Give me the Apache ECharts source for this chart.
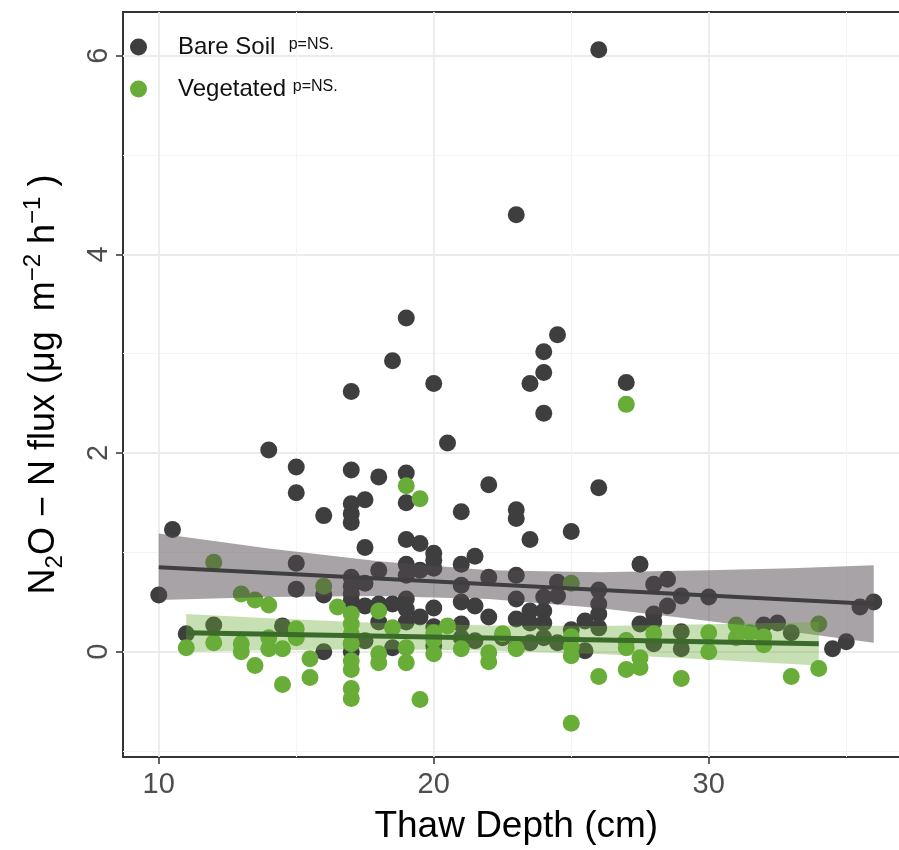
<!DOCTYPE html>
<html>
<head>
<meta charset="utf-8">
<script src="https://cdn.jsdelivr.net/npm/echarts@6/dist/echarts.min.js"></script>
<style>
  html, body { margin: 0; padding: 0; background: #fff; overflow: hidden; }
  /* panel runs a little past the right edge of the picture, as in the original */
  #viz { width: 912px; height: 850px; }
</style>
</head>
<body>
<div id="viz"></div>
<script>
// thaw depth (cm) vs N2O-N flux
const bareSoil = [
  [10, 0.57], [10.5, 1.23], [11, 0.18], [12, 0.27], [14, 2.03], [14.5, 0.26],
  [15, 1.86], [15, 1.6], [15, 0.89], [15, 0.63],
  [16, 1.37], [16, 0.57], [16, 0.0],
  [17, 2.62], [17, 1.83], [17, 1.49], [17, 1.39], [17, 1.3], [17, 0.75], [17, 0.66], [17, 0.58], [17, 0.51], [17, 0.08], [17, 0.0],
  [17.5, 1.53], [17.5, 1.05], [17.5, 0.69], [17.5, 0.46], [17.5, 0.11],
  [18, 1.76], [18, 0.82], [18, 0.48], [18, 0.3],
  [18.5, 2.93], [18.5, 0.48], [18.5, 0.04],
  [19, 3.36], [19, 1.8], [19, 1.5], [19, 1.13], [19, 0.88], [19, 0.77], [19, 0.53], [19, 0.43], [19, 0.3],
  [19.5, 1.09], [19.5, 0.82], [19.5, 0.35],
  [20, 2.7], [20, 0.99], [20, 0.92], [20, 0.84], [20, 0.44], [20, 0.25], [20, 0.06],
  [20.5, 2.1],
  [21, 1.41], [21, 0.88], [21, 0.67], [21, 0.5], [21, 0.28], [21, 0.14],
  [21.5, 0.96], [21.5, 0.46], [21.5, 0.11],
  [22, 1.68], [22, 0.75], [22, 0.35], [22.5, 0.14],
  [23, 4.4], [23, 1.43], [23, 1.34], [23, 0.77], [23, 0.53], [23, 0.33], [23, 0.04],
  [23.5, 2.7], [23.5, 1.13], [23.5, 0.41], [23.5, 0.29], [23.5, 0.09],
  [24, 3.02], [24, 2.81], [24, 2.4], [24, 0.55], [24, 0.41], [24, 0.29], [24, 0.14],
  [24.5, 3.19], [24.5, 0.7], [24.5, 0.56], [24.5, 0.09],
  [25, 1.21], [25, 0.22], [25.5, 0.31], [25.5, 0.01],
  [26, 6.06], [26, 1.65], [26, 0.62], [26, 0.48], [26, 0.38], [26, 0.24],
  [27, 2.71], [27, 0.11], [27.5, 0.88], [27.5, 0.28],
  [28, 0.68], [28, 0.38], [28, 0.3], [28, 0.08], [28.5, 0.73], [28.5, 0.46],
  [29, 0.56], [29, 0.2], [29, 0.03], [30, 0.55],
  [32, 0.27], [32.5, 0.29], [33, 0.19], [34.5, 0.03], [35, 0.1], [35.5, 0.45], [36, 0.5]
]

const vegetated = [
  [11, 0.04], [12, 0.9], [12, 0.09], [13, 0.58], [13, 0.08], [13, 0.0],
  [13.5, 0.52], [13.5, -0.14], [14, 0.47], [14, 0.14], [14, 0.03],
  [14.5, 0.03], [14.5, -0.33], [15, 0.23], [15, 0.14], [15.5, -0.07], [15.5, -0.26],
  [16, 0.66], [16.5, 0.45],
  [17, 0.38], [17, 0.28], [17, 0.18], [17, 0.08], [17, -0.09], [17, -0.18], [17, -0.37], [17, -0.47],
  [18, 0.41], [18, -0.02], [18, -0.11], [18.5, 0.24],
  [19, 1.67], [19, 0.04], [19, -0.11], [19.5, 1.54], [19.5, -0.48],
  [20, 0.19], [20, 0.12], [20, -0.02], [20.5, 0.26], [21, 0.03],
  [22, -0.01], [22, -0.1], [22.5, 0.18], [23, 0.03],
  [25, 0.69], [25, 0.15], [25, 0.05], [25, -0.04], [25, -0.72], [26, -0.25],
  [27, 2.49], [27, 0.11], [27, 0.04], [27, -0.18], [27.5, -0.06], [27.5, -0.16],
  [28, 0.18], [29, -0.27], [30, 0.19], [30, 0.0], [31, 0.27], [31, 0.14], [31.5, 0.19],
  [32, 0.15], [32, 0.07], [33, -0.25], [34, 0.28], [34, -0.17]
]

// fitted lines and their confidence bands
const bareFit = [[10, 0.85], [36, 0.48]]
const bareBandX = [10, 14, 18, 22, 26, 30, 33, 36]
const bareBandLo = [0.52, 0.55, 0.56, 0.53, 0.44, 0.31, 0.2, 0.09]
const bareBandHi = [1.19, 1.04, 0.91, 0.82, 0.8, 0.82, 0.84, 0.87]

const vegFit = [[11, 0.19], [34, 0.08]]
const vegBandX = [11, 14, 18, 22, 26, 30, 34]
const vegBandLo = [0.0, 0.015, 0.024, 0.013, -0.024, -0.078, -0.14]
const vegBandHi = [0.38, 0.337, 0.29, 0.263, 0.26, 0.276, 0.3]

const xTicks = [10, 20, 30]
const xMinor = [15, 25, 35]
const yTicks = [0, 2, 4, 6]
const yMinor = [-1, 1, 3, 5]

const FONT = "'Liberation Sans', Arial, Helvetica, sans-serif"
const X_MIN = 8.7
const X_MAX = 37.3
const Y_MIN = -1.06
const Y_MAX = 6.44

const band = (xs, lo, hi, fill, z) => ({
  type: 'custom',
  silent: true,
  z,
  data: xs.map((x, i) => [x, lo[i], hi[i]]),
  encode: { x: 0, y: [1, 2] },
  renderItem: (params, api) => {
    if (params.dataIndex !== 0) return null
    const top = xs.map((x, i) => api.coord([x, hi[i]]))
    const bottom = xs.map((x, i) => api.coord([x, lo[i]])).reverse()
    return {
      type: 'polygon',
      shape: { points: top.concat(bottom) },
      style: { fill },
    }
  },
})

const myChart = echarts.init(document.getElementById('viz'), null, { renderer: 'canvas' })

myChart.setOption({
  animation: false,
  textStyle: { fontFamily: FONT },
  grid: {
    left: 123,
    top: 12,
    right: 2.5,
    bottom: 93,
    show: true,
    borderColor: '#333',
    borderWidth: 2,
  },
  legend: {
    left: 125,
    top: 30,
    orient: 'vertical',
    itemGap: 18,
    itemWidth: 17,
    itemHeight: 17,
    icon: 'circle',
    data: ['Bare Soil', 'Vegetated'],
    formatter: (name) =>
      name === 'Bare Soil' ? '{n|Bare Soil  }{p|p=NS.}' : '{n|Vegetated }{p|p=NS.}',
    textStyle: {
      rich: {
        n: { fontFamily: FONT, fontSize: 24, lineHeight: 28, color: '#111', padding: [0, 0, 0, 26] },
        p: { fontFamily: FONT, fontSize: 16, color: '#111', verticalAlign: 'middle', padding: [0, 0, 5, 0] },
      },
    },
  },
  xAxis: [
    {
      type: 'value',
      min: X_MIN,
      max: X_MAX,
      axisLine: { show: false, onZero: false },
      axisTick: { customValues: xTicks, length: 7, lineStyle: { color: '#333', width: 1.5 } },
      axisLabel: { customValues: xTicks, fontSize: 29, color: '#4d4d4d', margin: 13, fontFamily: FONT },
      splitLine: { lineStyle: { color: '#ebebeb', width: 1.8 } },
      name: 'Thaw Depth (cm)',
      nameLocation: 'middle',
      nameGap: 51,
      nameTextStyle: { fontSize: 37, color: '#000', fontFamily: FONT },
    },
    {
      type: 'value',
      position: 'top',
      min: X_MIN,
      max: X_MAX,
      axisLine: { show: false, onZero: false },
      axisTick: { show: false, customValues: xMinor },
      axisLabel: { show: false },
      splitLine: { lineStyle: { color: '#f4f4f4', width: 1 } },
    },
  ],
  yAxis: [
    {
      type: 'value',
      min: Y_MIN,
      max: Y_MAX,
      axisLine: { show: false, onZero: false },
      axisTick: { customValues: yTicks, length: 7, lineStyle: { color: '#333', width: 1.5 } },
      axisLabel: { customValues: yTicks, fontSize: 29, color: '#4d4d4d', margin: 10, rotate: 90, fontFamily: FONT },
      splitLine: { lineStyle: { color: '#ebebeb', width: 1.8 } },
      name: '{t|N}{s|2}{t|O − N flux (μg  m}{u|−2}{t| h}{u|−1}{t| )}',
      nameLocation: 'middle',
      nameRotate: 90,
      nameGap: 56,
      nameTextStyle: {
        rich: {
          t: { fontFamily: FONT, fontSize: 36, lineHeight: 46, color: '#000' },
          s: { fontFamily: FONT, fontSize: 24, lineHeight: 24, color: '#000', verticalAlign: 'bottom' },
          u: { fontFamily: FONT, fontSize: 24, lineHeight: 24, color: '#000', verticalAlign: 'top' },
        },
      },
    },
    {
      type: 'value',
      position: 'right',
      min: Y_MIN,
      max: Y_MAX,
      axisLine: { show: false, onZero: false },
      axisTick: { show: false, customValues: yMinor },
      axisLabel: { show: false },
      splitLine: { lineStyle: { color: '#f4f4f4', width: 1 } },
    },
  ],
  series: [
    {
      name: 'Bare Soil',
      type: 'scatter',
      symbolSize: 17,
      z: 2,
      itemStyle: { color: '#3e3e3e', opacity: 1 },
      data: bareSoil,
    },
    {
      name: 'Vegetated',
      type: 'scatter',
      symbolSize: 17,
      z: 2,
      itemStyle: { color: '#68ad38', opacity: 1 },
      data: vegetated,
    },
    band(bareBandX, bareBandLo, bareBandHi, 'rgba(82,72,77,0.5)', 3),
    {
      type: 'line',
      z: 4,
      symbol: 'none',
      silent: true,
      lineStyle: { color: '#3f3f3f', width: 4 },
      data: bareFit,
    },
    band(vegBandX, vegBandLo, vegBandHi, 'rgba(104,173,56,0.38)', 5),
    {
      type: 'line',
      z: 6,
      symbol: 'none',
      silent: true,
      lineStyle: { color: '#3b6b2b', width: 5 },
      data: vegFit,
    },
  ],
})
</script>
</body>
</html>
